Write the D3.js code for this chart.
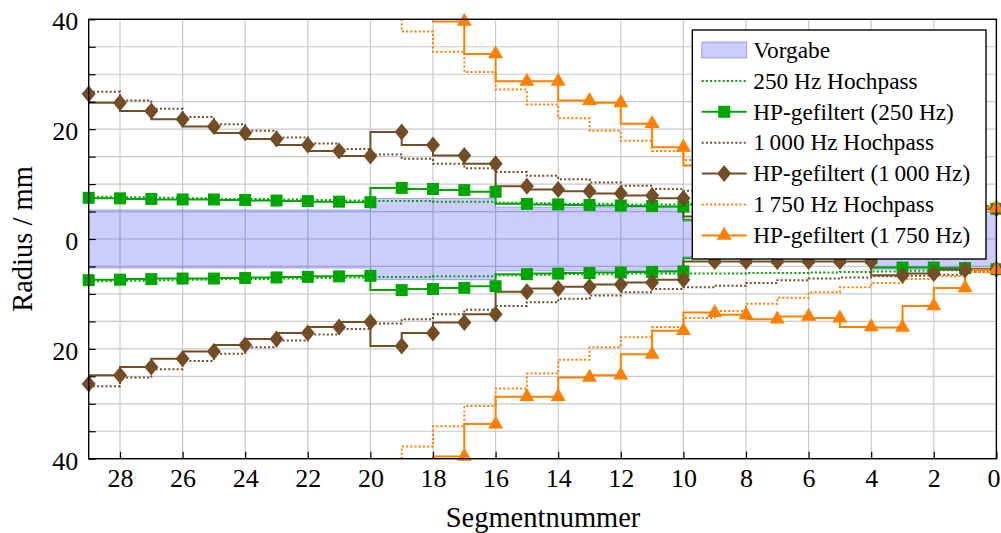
<!DOCTYPE html>
<html>
<head>
<meta charset="utf-8">
<script src="https://cdn.jsdelivr.net/npm/d3@7"></script>
<style>
  body { margin: 0; background: #fff; }
</style>
</head>
<body>
<svg id="chart"></svg>
<script>
// Chart size
const width = 1001;
const height = 533;
const margin = { top: 19.3, right: 4.6, bottom: 74.3, left: 88.7 };
const serif = "Liberation Serif";

// Data (radius in mm, per segment; drawn mirrored about 0)
const segments = [29, 28, 27, 26, 25, 24, 23, 22, 21, 20, 19, 18, 17, 16, 15, 14, 13, 12, 11, 10, 9, 8, 7, 6, 5, 4, 3, 2, 1, 0];

// step levels valid from the segment to the next one (to the right)
const vorgabe = [5.3, 5.3, 5.3, 5.3, 5.3, 5.3, 5.3, 5.3, 5.3, 7.4, 7.4, 7.4, 7.4, 5.8, 5.8, 5.8, 5.8, 5.8, 5.8, 3.2, 3.2, 3.2, 3.2, 3.2, 3.2, 5.5, 5.5, 5.5, 5.5, 5.5];
const hp250 = [7.7, 7.6, 7.5, 7.4, 7.3, 7.3, 7.2, 7.1, 7.0, 6.9, 6.9, 6.8, 6.8, 6.6, 6.5, 6.4, 6.4, 6.3, 6.3, 6.3, 6.3, 6.2, 6.2, 6.1, 6.0, 5.9, 5.8, 5.7, 5.6, 5.6];
const hp1000 = [26.8, 25.2, 23.7, 22.2, 20.9, 19.7, 18.5, 17.4, 16.4, 15.4, 14.6, 13.7, 12.9, 12.2, 11.5, 10.9, 10.3, 9.7, 9.1, 8.8, 8.5, 8.0, 7.5, 7.2, 7.0, 6.8, 6.7, 6.5, 6.0, 6.0];
const hp1750 = [null, null, null, null, null, null, null, null, null, 42, 37.8, 34.1, 30.4, 27.2, 24.5, 22.0, 19.7, 17.9, 16.0, 14.4, 13.1, 11.8, 10.7, 9.7, 8.8, 8.0, 7.3, 6.8, 6.0, 6.0];

// filtered values at the markers
const filt250 = [7.5, 7.4, 7.3, 7.2, 7.2, 7.1, 7.0, 6.9, 6.8, 6.7, 9.3, 9.1, 8.9, 8.6, 6.4, 6.3, 6.2, 6.1, 6.0, 5.9, 3.5, 3.5, 3.5, 3.5, 3.5, 3.5, 5.2, 5.2, 5.3, 5.5];
const filt1000 = [26.4, 24.8, 23.3, 21.8, 20.5, 19.3, 18.2, 17.1, 16.0, 15.1, 19.5, 17.1, 15.2, 13.7, 9.6, 9.0, 8.7, 8.3, 7.9, 7.4, 4.1, 4.1, 4.1, 4.1, 4.1, 4.1, 6.6, 6.3, 5.6, 5.5];
const filt1750 = [null, null, null, null, null, null, null, null, null, null, null, 44, 39.6, 33.7, 28.7, 28.7, 25.2, 24.8, 21.0, 16.7, 13.4, 13.8, 14.6, 14.1, 14.4, 16.0, 16.1, 12.2, 8.9, 5.6];

const xTicks = [28, 26, 24, 22, 20, 18, 16, 14, 12, 10, 8, 6, 4, 2, 0];
const yTicks = [-40, -35, -30, -25, -20, -15, -10, -5, 0, 5, 10, 15, 20, 25, 30, 35, 40];
const yLabels = [-40, -20, 0, 20, 40];

const green = "#00a600";
const brown = "#734d26";
const orange = "#ff8000";

const svg = d3.select("#chart").attr("width", width).attr("height", height)
  .style("font-family", serif);

const x = d3.scaleLinear().domain([29, 0]).range([margin.left, width - margin.right]);
const y = d3.scaleLinear().domain([-40, 40]).range([height - margin.bottom, margin.top]);

svg.append("defs").append("clipPath").attr("id", "clip")
  .append("rect")
  .attr("x", x(29)).attr("y", y(40))
  .attr("width", x(0) - x(29)).attr("height", y(-40) - y(40));

// Grid
const grid = svg.append("g").attr("stroke", "#c8c8c8").attr("stroke-width", 1.2);
grid.selectAll(".gx").data(xTicks).enter().append("line")
  .attr("x1", (d) => x(d)).attr("x2", (d) => x(d))
  .attr("y1", y(-40)).attr("y2", y(40));
grid.selectAll(".gy").data(yTicks).enter().append("line")
  .attr("x1", x(29)).attr("x2", x(0))
  .attr("y1", (d) => y(d)).attr("y2", (d) => y(d));

const plot = svg.append("g").attr("clip-path", "url(#clip)");

// Vorgabe band
const band = segments.map((s, i) => ({ s: s, v: vorgabe[i] }));
plot.append("path")
  .datum(band)
  .attr("fill", "rgb(0,0,255)")
  .attr("fill-opacity", 0.2)
  .attr("stroke", "rgb(0,0,255)")
  .attr("stroke-opacity", 0.3)
  .attr("stroke-width", 1)
  .attr("d", d3.area().curve(d3.curveStepAfter)
    .x((d) => x(d.s)).y0((d) => y(-d.v)).y1((d) => y(d.v)));

const markerPaths = {
  square: "M-6,-6H6V6H-6Z",
  diamond: "M0,-8.5L7,0L0,8.5L-7,0Z",
  triangle: "M0,-8.7L7.5,4.35L-7.5,4.35Z"
};

function drawDotted(values, color) {
  const pts = segments.map((s, i) => ({ s: s, v: values[i] }));
  [1, -1].forEach((sign) => {
    plot.append("path")
      .datum(pts)
      .attr("fill", "none")
      .attr("stroke", color)
      .attr("stroke-width", 2)
      .attr("stroke-dasharray", "2 2.2")
      .attr("d", d3.line().defined((d) => d.v != null).curve(d3.curveStepAfter)
        .x((d) => x(d.s)).y((d) => y(sign * d.v)));
  });
}

function drawFiltered(values, color, marker) {
  const pts = segments.map((s, i) => ({ s: s, v: values[i] }));
  [1, -1].forEach((sign) => {
    plot.append("path")
      .datum(pts)
      .attr("fill", "none")
      .attr("stroke", color)
      .attr("stroke-width", 2)
      .attr("d", d3.line().defined((d) => d.v != null).curve(d3.curveStepBefore)
        .x((d) => x(d.s)).y((d) => y(sign * d.v)));
    svg.append("g").selectAll("path")
      .data(pts.filter((d) => d.v != null && d.v <= 40))
      .enter().append("path")
      .attr("d", markerPaths[marker])
      .attr("fill", color)
      .attr("transform", (d) => `translate(${x(d.s)},${y(sign * d.v)})`);
  });
}

drawDotted(hp250, green);
drawFiltered(filt250, green, "square");
drawDotted(hp1000, brown);
drawFiltered(filt1000, brown, "diamond");
drawDotted(hp1750, orange);
drawFiltered(filt1750, orange, "triangle");

// Axes
const xAxis = svg.append("g")
  .attr("transform", `translate(0,${y(-40)})`)
  .call(d3.axisBottom(x).tickValues(xTicks).tickSize(-7).tickPadding(10));
xAxis.attr("font-family", serif);
xAxis.select(".domain").remove();
xAxis.selectAll("text").style("font-size", "26px").style("font-family", serif).attr("fill", "#000");
xAxis.selectAll("text").filter((d) => d === 0).attr("dx", -3);
xAxis.selectAll("line").attr("stroke", "#000").attr("stroke-width", 1.2);

const yAxis = svg.append("g")
  .attr("transform", `translate(${x(29)},0)`)
  .call(d3.axisLeft(y).tickValues(yTicks).tickSize(-7).tickPadding(10.4)
    .tickFormat((d) => (yLabels.includes(d) ? Math.abs(d) : "")));
yAxis.attr("font-family", serif);
yAxis.select(".domain").remove();
yAxis.selectAll("text").style("font-size", "26px").style("font-family", serif)
  .attr("fill", "#000").attr("dy", "0.4em");
yAxis.selectAll("line").attr("stroke", "#000").attr("stroke-width", 1.2);

// Frame
svg.append("rect")
  .attr("x", x(29)).attr("y", y(40))
  .attr("width", x(0) - x(29)).attr("height", y(-40) - y(40))
  .attr("fill", "none").attr("stroke", "#000").attr("stroke-width", 1.4);

// Axis labels
svg.append("text")
  .attr("x", 543).attr("y", 526.7)
  .attr("text-anchor", "middle")
  .style("font-size", "28.5px").style("font-family", serif)
  .text("Segmentnummer");

svg.append("text")
  .attr("transform", `translate(32,${y(0)}) rotate(-90)`)
  .attr("text-anchor", "middle")
  .style("font-size", "28.5px").style("font-family", serif)
  .text("Radius / mm");

// Legend
const legendItems = [
  { label: "Vorgabe", type: "area" },
  { label: "250 Hz Hochpass", type: "dotted", color: green },
  { label: "HP-gefiltert (250 Hz)", type: "solid", color: green, marker: "square" },
  { label: "1\u2009000 Hz Hochpass", type: "dotted", color: brown },
  { label: "HP-gefiltert (1\u2009000 Hz)", type: "solid", color: brown, marker: "diamond" },
  { label: "1\u2009750 Hz Hochpass", type: "dotted", color: orange },
  { label: "HP-gefiltert (1\u2009750 Hz)", type: "solid", color: orange, marker: "triangle" }
];

const legend = svg.append("g");
legend.append("rect")
  .attr("x", 692.3).attr("y", 30)
  .attr("width", 293.7).attr("height", 229)
  .attr("fill", "#fff").attr("stroke", "#000").attr("stroke-width", 1.4);

const rows = legend.selectAll(".row").data(legendItems).enter().append("g")
  .attr("transform", (d, i) => `translate(0,${50 + i * 30.9})`);

rows.each(function (d) {
  const g = d3.select(this);
  if (d.type === "area") {
    g.append("rect")
      .attr("x", 701.7).attr("y", -8).attr("width", 45).attr("height", 16)
      .attr("fill", "rgb(0,0,255)").attr("fill-opacity", 0.2)
      .attr("stroke", "rgb(0,0,255)").attr("stroke-opacity", 0.3);
  } else {
    g.append("line")
      .attr("x1", 701.7).attr("x2", 746.7).attr("y1", 0).attr("y2", 0)
      .attr("stroke", d.color).attr("stroke-width", 2)
      .attr("stroke-dasharray", d.type === "dotted" ? "2 2.2" : null);
    if (d.marker) {
      g.append("path")
        .attr("d", markerPaths[d.marker])
        .attr("fill", d.color)
        .attr("transform", "translate(724.2,0)");
    }
  }
  g.append("text")
    .attr("x", 753.3).attr("y", 0).attr("dy", "0.33em")
    .style("font-size", "23.3px").style("font-family", serif)
    .text(d.label);
});
</script>
</body>
</html>
